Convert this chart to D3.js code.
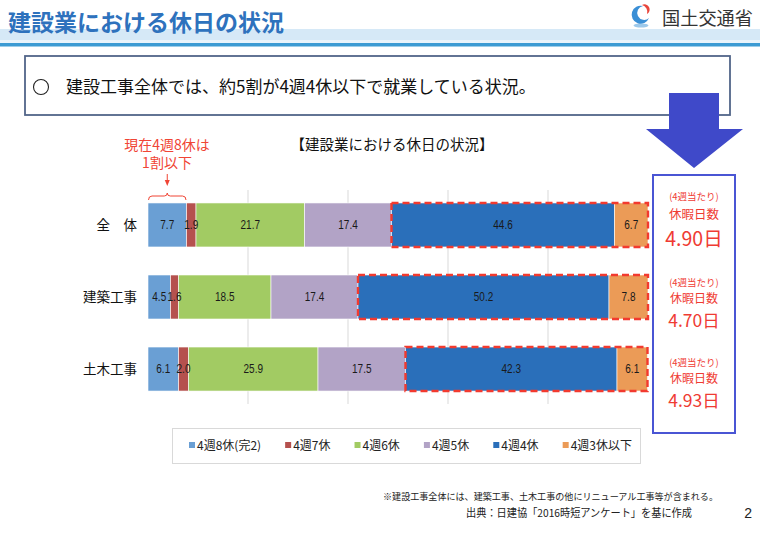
<!DOCTYPE html>
<html><head><meta charset="utf-8">
<script src="https://cdn.jsdelivr.net/npm/d3@7"></script>
<style>body{margin:0;background:#fff;} svg{display:block;}</style>
</head><body>
<script>
// ---- data ----
const categories = ["全　体", "建築工事", "土木工事"];
const seriesNames = ["4週8休(完2)", "4週7休", "4週6休", "4週5休", "4週4休", "4週3休以下"];
const seriesColors = ["#6a9fd4", "#b5514e", "#a2cb63", "#b2a3c6", "#2a6fba", "#eb9b57"];
const v8 = [7.7, 4.5, 6.1];
const v7 = [1.9, 1.6, 2.0];
const v6 = [21.7, 18.5, 25.9];
const v5 = [17.4, 17.4, 17.5];
const v4 = [44.6, 50.2, 42.3];
const v3 = [6.7, 7.8, 6.1];
const gridTicks = [20, 40, 60, 80];
const restDays = ["4.90日", "4.70日", "4.93日"];

const JP = "'Noto Sans CJK JP','Noto Sans CJK SC',sans-serif";
const LAT = "'Liberation Sans','Noto Sans CJK JP',sans-serif";

const W = 760, H = 536;
const svg = d3.select("body").append("svg").attr("width", W).attr("height", H);

// ---- header ----
svg.append("rect").attr("x", 0).attr("y", 29).attr("width", W).attr("height", 11).attr("fill", "#d6e9f7");
svg.append("rect").attr("x", 0).attr("y", 40).attr("width", W).attr("height", 3).attr("fill", "#eaf4fb");
svg.append("rect").attr("x", 0).attr("y", 43).attr("width", W).attr("height", 3.5).attr("fill", "#3d9bd3");
svg.append("text").attr("x", 8).attr("y", 31).attr("font-family", JP).attr("font-weight", "bold")
  .attr("font-size", 23).attr("fill", "#2e72bd").text("建設業における休日の状況");
// logo
const logo = svg.append("g").attr("transform", "translate(641,15)");
logo.append("ellipse").attr("cx", 0).attr("cy", 10.5).attr("rx", 7.5).attr("ry", 2).attr("fill", "#9cc8ea");
logo.append("path").attr("d", "M2,-9 A9,9 0 1 0 8,3 A7,7 0 1 1 2,-9Z").attr("fill", "#3a8fd6");
logo.append("path").attr("d", "M1,-10 A7,7 0 0 1 6,-1 A5,5 0 0 0 1,-10Z").attr("fill", "#e8463c");
svg.append("text").attr("x", 662).attr("y", 24.5).attr("font-family", JP).attr("font-size", 18.2)
  .attr("fill", "#333").text("国土交通省");

// ---- message box ----
svg.append("rect").attr("x", 25).attr("y", 56).attr("width", 705).attr("height", 59)
  .attr("fill", "#fff").attr("stroke", "#526589").attr("stroke-width", 1.8);
svg.append("circle").attr("cx", 41).attr("cy", 87).attr("r", 7.5).attr("fill", "none")
  .attr("stroke", "#222").attr("stroke-width", 1.1);
svg.append("text").attr("x", 66).attr("y", 93).attr("font-family", JP).attr("font-size", 17)
  .attr("fill", "#111").text("建設工事全体では、約5割が4週4休以下で就業している状況。");

// ---- big arrow ----
svg.append("path")
  .attr("d", "M669,93 H719 V129 H743 L694,168 L646,129 H669 Z")
  .attr("fill", "#3f49c9");

// ---- chart ----
const x = d3.scaleLinear().domain([0, 100]).range([148, 648]);
const y = d3.scaleBand().domain(categories).range([190, 404]).paddingInner(0.389).paddingOuter(0.18);

svg.append("text").attr("x", 392).attr("y", 150).attr("text-anchor", "middle")
  .attr("font-family", JP).attr("font-size", 14.5).attr("fill", "#111").text("【建設業における休日の状況】");

// grid
svg.append("g").selectAll("line").data(gridTicks).join("line")
  .attr("x1", d => x(d)).attr("x2", d => x(d)).attr("y1", 190).attr("y2", 404)
  .attr("stroke", "#d9d9d9").attr("stroke-width", 1);

const rows = categories.map((c, i) => ({
  cat: c, s0: v8[i], s1: v7[i], s2: v6[i], s3: v5[i], s4: v4[i], s5: v3[i]
}));
const keys = ["s0", "s1", "s2", "s3", "s4", "s5"];
const stacked = d3.stack().keys(keys)(rows);

const layers = svg.append("g").selectAll("g").data(stacked).join("g")
  .attr("fill", (d, i) => seriesColors[i]);
layers.selectAll("rect").data(d => d).join("rect")
  .attr("x", d => x(d[0])).attr("width", d => x(d[1]) - x(d[0]))
  .attr("y", d => y(d.data.cat)).attr("height", y.bandwidth())
  .attr("stroke", "#fff").attr("stroke-width", 0.6);

// dashed highlight boxes
svg.append("g").selectAll("rect").data(rows).join("rect")
  .attr("x", (d, i) => x(stacked[4][i][0]))
  .attr("width", (d, i) => x(stacked[5][i][1]) - x(stacked[4][i][0]))
  .attr("y", d => y(d.cat)).attr("height", y.bandwidth())
  .attr("fill", "none").attr("stroke", "#f23a2f").attr("stroke-width", 2.4)
  .attr("stroke-dasharray", "7,4");

// value labels (drawn on top, condensed)
const labelData = [];
stacked.forEach(layer => layer.forEach(p => labelData.push({ p, key: layer.key })));
svg.append("g").selectAll("text").data(labelData).join("text")
  .attr("transform", d => `translate(${(x(d.p[0]) + x(d.p[1])) / 2},${y(d.p.data.cat) + y.bandwidth() / 2 + 4.3}) scale(0.8,1)`)
  .attr("text-anchor", "middle").attr("font-family", LAT).attr("font-size", 12.5)
  .attr("fill", "#1a1a1a")
  .text(d => d.p.data[d.key].toFixed(1));

// category labels
svg.append("g").selectAll("text").data(categories).join("text")
  .attr("x", 137).attr("y", d => y(d) + y.bandwidth() / 2 + 5)
  .attr("text-anchor", "end").attr("font-family", JP).attr("font-size", 13.5)
  .attr("fill", "#111").text(d => d);

// red annotation
const ann = svg.append("g").attr("fill", "#f04535").attr("font-family", JP).attr("font-size", 14)
  .attr("text-anchor", "middle");
ann.append("text").attr("x", 167).attr("y", 149.5).text("現在4週8休は");
ann.append("text").attr("x", 167).attr("y", 168).text("1割以下");
const bx0 = x(0), bx1 = x(stacked[0][0][1]), bxm = (bx0 + bx1) / 2;
svg.append("line").attr("x1", bxm).attr("x2", bxm).attr("y1", 174).attr("y2", 181)
  .attr("stroke", "#f04535").attr("stroke-width", 1);
svg.append("path").attr("d", `M${bxm - 2.5},180 L${bxm + 2.5},180 L${bxm},186 Z`).attr("fill", "#f04535");
svg.append("path")
  .attr("d", `M${bx0 + 0.5},200 Q${bx0 + 0.5},196 ${bx0 + 4},196 H${bxm - 3} Q${bxm},196 ${bxm},193 Q${bxm},196 ${bxm + 3},196 H${bx1 - 4} Q${bx1 - 0.5},196 ${bx1 - 0.5},200`)
  .attr("fill", "none").attr("stroke", "#f04535").attr("stroke-width", 1);

// ---- right box with rest days ----
svg.append("rect").attr("x", 653).attr("y", 175).attr("width", 82).attr("height", 258)
  .attr("fill", "#fff").attr("stroke", "#4a55d4").attr("stroke-width", 2);
const groups = [
  { c: [197, 214, 239], f: [9.5, 12.5, 19.5] },
  { c: [283, 299, 321], f: [9.5, 12, 17.5] },
  { c: [363, 379, 401], f: [9.5, 12, 17.5] }
];
restDays.forEach((d, i) => {
  const g = groups[i];
  const lines = ["(4週当たり)", "休暇日数", d];
  lines.forEach((t, j) => {
    svg.append("text").attr("x", 694).attr("y", g.c[j]).attr("dy", "0.36em")
      .attr("text-anchor", "middle").attr("font-family", JP).attr("font-size", g.f[j])
      .attr("fill", "#ef3b33").text(t);
  });
});

// ---- legend ----
svg.append("rect").attr("x", 172.5).attr("y", 428.5).attr("width", 468).attr("height", 35)
  .attr("fill", "#fff").attr("stroke", "#d9d9d9").attr("stroke-width", 1);
const lg = svg.append("g");
const items = seriesNames.map((n, i) => {
  const r = lg.append("rect").attr("y", 442).attr("width", 6).attr("height", 6).attr("fill", seriesColors[i]);
  const t = lg.append("text").attr("y", 449.5).attr("font-family", JP)
    .attr("font-size", 12).attr("fill", "#222").text(n);
  return { r, t, w: 8 + t.node().getComputedTextLength() };
});
const lStart = 189, lEnd = 632;
const gap = (lEnd - lStart - d3.sum(items, d => d.w)) / (items.length - 1);
let lx = lStart;
items.forEach(it => {
  it.r.attr("x", lx);
  it.t.attr("x", lx + 8);
  lx += it.w + gap;
});

// ---- footnotes ----
svg.append("text").attr("x", 383).attr("y", 499.5).attr("font-family", JP).attr("font-size", 9.5)
  .attr("textLength", 335).attr("lengthAdjust", "spacingAndGlyphs")
  .attr("fill", "#222").text("※建設工事全体には、建築工事、土木工事の他にリニューアル工事等が含まれる。");
svg.append("text").attr("x", 466).attr("y", 517).attr("font-family", JP).attr("font-size", 11)
  .attr("textLength", 226).attr("lengthAdjust", "spacingAndGlyphs")
  .attr("fill", "#222").text("出典：日建協「2016時短アンケート」を基に作成");
svg.append("text").attr("x", 752).attr("y", 518).attr("text-anchor", "end").attr("font-family", "'Liberation Sans',sans-serif")
  .attr("font-size", 14).attr("fill", "#222").text("2");
</script>
</body></html>
